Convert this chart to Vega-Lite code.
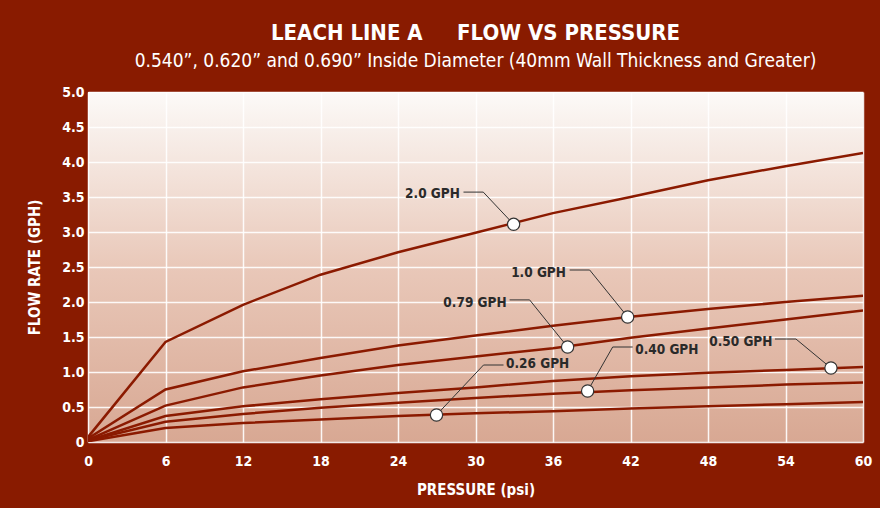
{
  "$schema": "https://vega.github.io/schema/vega-lite/v6.json",
  "width": 775,
  "height": 350,
  "autosize": "none",
  "padding": {"left": 88, "top": 92, "right": 17, "bottom": 66},
  "background": "#891b00",
  "title": {
    "text": "LEACH LINE A\u00a0\u00a0\u00a0\u00a0\u00a0FLOW VS PRESSURE",
    "subtitle": "0.540\u201d, 0.620\u201d and 0.690\u201d Inside Diameter (40mm Wall Thickness and Greater)",
    "anchor": "middle",
    "frame": "group",
    "color": "white",
    "subtitleColor": "white",
    "font": "DejaVu Sans Condensed, sans-serif",
    "subtitleFont": "DejaVu Sans Condensed, sans-serif",
    "fontSize": 22,
    "fontWeight": "bold",
    "subtitleFontSize": 19,
    "subtitleFontWeight": "normal",
    "subtitlePadding": 7,
    "offset": 13
  },
  "config": {
    "view": {
      "stroke": null,
      "fill": {
        "gradient": "linear",
        "x1": 0, "y1": 0, "x2": 0, "y2": 1,
        "stops": [
          {"offset": 0, "color": "#fcfaf8"},
          {"offset": 0.5, "color": "#e9c8b9"},
          {"offset": 1, "color": "#d8a893"}
        ]
      }
    },
    "axis": {
      "domain": false,
      "ticks": false,
      "grid": true,
      "gridColor": "#ffffff",
      "gridWidth": 1.5,
      "gridOpacity": 0.9,
      "labelColor": "white",
      "labelFont": "DejaVu Sans Condensed, sans-serif",
      "labelFontWeight": "bold",
      "labelFontSize": 14,
      "titleColor": "white",
      "titleFont": "DejaVu Sans Condensed, sans-serif",
      "titleFontWeight": "bold",
      "titleFontSize": 15
    }
  },
  "datasets": {
    "curves": [
      {"series": "2.0 GPH", "pressure": 0, "flow": 0.07},
      {"series": "2.0 GPH", "pressure": 6, "flow": 1.43},
      {"series": "2.0 GPH", "pressure": 12, "flow": 1.96},
      {"series": "2.0 GPH", "pressure": 18, "flow": 2.39},
      {"series": "2.0 GPH", "pressure": 24, "flow": 2.71},
      {"series": "2.0 GPH", "pressure": 30, "flow": 2.99},
      {"series": "2.0 GPH", "pressure": 36, "flow": 3.27},
      {"series": "2.0 GPH", "pressure": 42, "flow": 3.5},
      {"series": "2.0 GPH", "pressure": 48, "flow": 3.74},
      {"series": "2.0 GPH", "pressure": 54, "flow": 3.94},
      {"series": "2.0 GPH", "pressure": 60, "flow": 4.13},
      {"series": "1.0 GPH", "pressure": 0, "flow": 0.05},
      {"series": "1.0 GPH", "pressure": 6, "flow": 0.75},
      {"series": "1.0 GPH", "pressure": 12, "flow": 1.01},
      {"series": "1.0 GPH", "pressure": 18, "flow": 1.2},
      {"series": "1.0 GPH", "pressure": 24, "flow": 1.38},
      {"series": "1.0 GPH", "pressure": 30, "flow": 1.52},
      {"series": "1.0 GPH", "pressure": 36, "flow": 1.66},
      {"series": "1.0 GPH", "pressure": 42, "flow": 1.79},
      {"series": "1.0 GPH", "pressure": 48, "flow": 1.9},
      {"series": "1.0 GPH", "pressure": 54, "flow": 2.0},
      {"series": "1.0 GPH", "pressure": 60, "flow": 2.09},
      {"series": "0.79 GPH", "pressure": 0, "flow": 0.03},
      {"series": "0.79 GPH", "pressure": 6, "flow": 0.52},
      {"series": "0.79 GPH", "pressure": 12, "flow": 0.78},
      {"series": "0.79 GPH", "pressure": 18, "flow": 0.95},
      {"series": "0.79 GPH", "pressure": 24, "flow": 1.1},
      {"series": "0.79 GPH", "pressure": 30, "flow": 1.22},
      {"series": "0.79 GPH", "pressure": 36, "flow": 1.34},
      {"series": "0.79 GPH", "pressure": 42, "flow": 1.49},
      {"series": "0.79 GPH", "pressure": 48, "flow": 1.62},
      {"series": "0.79 GPH", "pressure": 54, "flow": 1.75},
      {"series": "0.79 GPH", "pressure": 60, "flow": 1.88},
      {"series": "0.50 GPH", "pressure": 0, "flow": 0.02},
      {"series": "0.50 GPH", "pressure": 6, "flow": 0.37},
      {"series": "0.50 GPH", "pressure": 12, "flow": 0.51},
      {"series": "0.50 GPH", "pressure": 18, "flow": 0.61},
      {"series": "0.50 GPH", "pressure": 24, "flow": 0.7},
      {"series": "0.50 GPH", "pressure": 30, "flow": 0.78},
      {"series": "0.50 GPH", "pressure": 36, "flow": 0.87},
      {"series": "0.50 GPH", "pressure": 42, "flow": 0.94},
      {"series": "0.50 GPH", "pressure": 48, "flow": 0.99},
      {"series": "0.50 GPH", "pressure": 54, "flow": 1.03},
      {"series": "0.50 GPH", "pressure": 60, "flow": 1.07},
      {"series": "0.40 GPH", "pressure": 0, "flow": 0.02},
      {"series": "0.40 GPH", "pressure": 6, "flow": 0.29},
      {"series": "0.40 GPH", "pressure": 12, "flow": 0.4},
      {"series": "0.40 GPH", "pressure": 18, "flow": 0.49},
      {"series": "0.40 GPH", "pressure": 24, "flow": 0.56},
      {"series": "0.40 GPH", "pressure": 30, "flow": 0.63},
      {"series": "0.40 GPH", "pressure": 36, "flow": 0.69},
      {"series": "0.40 GPH", "pressure": 42, "flow": 0.74},
      {"series": "0.40 GPH", "pressure": 48, "flow": 0.78},
      {"series": "0.40 GPH", "pressure": 54, "flow": 0.82},
      {"series": "0.40 GPH", "pressure": 60, "flow": 0.85},
      {"series": "0.26 GPH", "pressure": 0, "flow": 0.01},
      {"series": "0.26 GPH", "pressure": 6, "flow": 0.2},
      {"series": "0.26 GPH", "pressure": 12, "flow": 0.27},
      {"series": "0.26 GPH", "pressure": 18, "flow": 0.32},
      {"series": "0.26 GPH", "pressure": 24, "flow": 0.37},
      {"series": "0.26 GPH", "pressure": 30, "flow": 0.41},
      {"series": "0.26 GPH", "pressure": 36, "flow": 0.44},
      {"series": "0.26 GPH", "pressure": 42, "flow": 0.48},
      {"series": "0.26 GPH", "pressure": 48, "flow": 0.51},
      {"series": "0.26 GPH", "pressure": 54, "flow": 0.54},
      {"series": "0.26 GPH", "pressure": 60, "flow": 0.57}
    ],
    "leaders": [
      {"label": "2.0 GPH", "step": 1, "pressure": 29.07, "flow": 3.57},
      {"label": "2.0 GPH", "step": 2, "pressure": 30.6, "flow": 3.57},
      {"label": "2.0 GPH", "step": 3, "pressure": 32.95, "flow": 3.11},
      {"label": "1.0 GPH", "step": 1, "pressure": 37.29, "flow": 2.457},
      {"label": "1.0 GPH", "step": 2, "pressure": 38.84, "flow": 2.457},
      {"label": "1.0 GPH", "step": 3, "pressure": 41.78, "flow": 1.786},
      {"label": "0.79 GPH", "step": 1, "pressure": 32.64, "flow": 2.03},
      {"label": "0.79 GPH", "step": 2, "pressure": 34.19, "flow": 2.03},
      {"label": "0.79 GPH", "step": 3, "pressure": 37.13, "flow": 1.357},
      {"label": "0.26 GPH", "step": 1, "pressure": 32.17, "flow": 1.1},
      {"label": "0.26 GPH", "step": 2, "pressure": 30.62, "flow": 1.1},
      {"label": "0.26 GPH", "step": 3, "pressure": 26.98, "flow": 0.386},
      {"label": "0.40 GPH", "step": 1, "pressure": 42.17, "flow": 1.357},
      {"label": "0.40 GPH", "step": 2, "pressure": 40.62, "flow": 1.357},
      {"label": "0.40 GPH", "step": 3, "pressure": 38.68, "flow": 0.729},
      {"label": "0.50 GPH", "step": 1, "pressure": 53.18, "flow": 1.471},
      {"label": "0.50 GPH", "step": 2, "pressure": 54.81, "flow": 1.471},
      {"label": "0.50 GPH", "step": 3, "pressure": 57.52, "flow": 1.057}
    ],
    "markers": [
      {"label": "2.0 GPH", "pressure": 32.95, "flow": 3.11},
      {"label": "1.0 GPH", "pressure": 41.78, "flow": 1.786},
      {"label": "0.79 GPH", "pressure": 37.13, "flow": 1.357},
      {"label": "0.26 GPH", "pressure": 26.98, "flow": 0.386},
      {"label": "0.40 GPH", "pressure": 38.68, "flow": 0.729},
      {"label": "0.50 GPH", "pressure": 57.52, "flow": 1.057}
    ],
    "labels": [
      {"label": "2.0 GPH", "pressure": 26.67, "flow": 3.543},
      {"label": "1.0 GPH", "pressure": 34.88, "flow": 2.414},
      {"label": "0.79 GPH", "pressure": 29.96, "flow": 1.986},
      {"label": "0.26 GPH", "pressure": 34.81, "flow": 1.114},
      {"label": "0.40 GPH", "pressure": 44.81, "flow": 1.314},
      {"label": "0.50 GPH", "pressure": 50.54, "flow": 1.429}
    ]
  },
  "encoding": {
    "x": {
      "field": "pressure",
      "type": "quantitative",
      "scale": {"domain": [0, 60], "nice": false, "zero": false},
      "axis": {
        "title": "PRESSURE (psi)",
        "values": [0, 6, 12, 18, 24, 30, 36, 42, 48, 54, 60],
        "labelPadding": 12,
        "titlePadding": 14,
        "labelFlush": false
      }
    },
    "y": {
      "field": "flow",
      "type": "quantitative",
      "scale": {"domain": [0, 5], "nice": false},
      "axis": {
        "title": "FLOW RATE (GPH)",
        "values": [0, 0.5, 1, 1.5, 2, 2.5, 3, 3.5, 4, 4.5, 5],
        "labelExpr": "datum.value == 0 ? '0' : format(datum.value, '.1f')",
        "labelPadding": 4,
        "titlePadding": 19,
        "labelFlush": false
      }
    }
  },
  "layer": [
    {
      "data": {"name": "curves"},
      "mark": {"type": "line", "color": "#8b1a00", "strokeWidth": 2.5, "clip": true},
      "encoding": {"detail": {"field": "series"}}
    },
    {
      "data": {"name": "leaders"},
      "mark": {"type": "line", "color": "#333333", "strokeWidth": 1},
      "encoding": {
        "detail": {"field": "label"},
        "order": {"field": "step", "type": "quantitative"}
      }
    },
    {
      "data": {"name": "markers"},
      "mark": {"type": "point", "shape": "circle", "filled": true, "fill": "white", "stroke": "#333333", "strokeWidth": 1.2, "size": 150, "opacity": 1}
    },
    {
      "data": {"name": "labels"},
      "mark": {"type": "text", "font": "DejaVu Sans Condensed, sans-serif", "fontWeight": "bold", "fontSize": 13.5, "color": "#2a2a2a", "align": "center", "baseline": "middle"},
      "encoding": {"text": {"field": "label"}}
    }
  ]
}
